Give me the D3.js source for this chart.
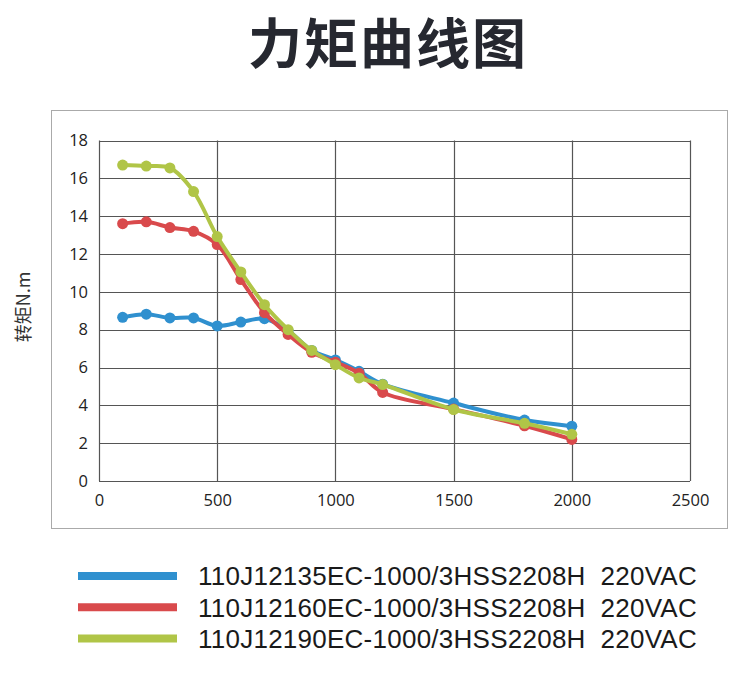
<!DOCTYPE html>
<html lang="zh">
<head>
    <meta charset="utf-8">
    <script src="https://d3js.org/d3.v7.min.js"></script>
    <style>
        body { margin: 0; background: #fff; }
    </style>
</head>
<body>
    <script type="text/javascript">

        // speed (rpm) and torque (N.m)
        let speeds = [100, 200, 300, 400, 500, 600, 700, 800, 900, 1000, 1100, 1200, 1500, 1800, 2000];
        let torque135 = [8.65, 8.82, 8.62, 8.62, 8.2, 8.4, 8.58, 7.95, 6.9, 6.4, 5.8, 5.12, 4.12, 3.22, 2.9];
        let torque160 = [13.6, 13.7, 13.4, 13.2, 12.5, 10.65, 8.9, 7.75, 6.8, 6.28, 5.7, 4.68, 3.8, 2.92, 2.2];
        let torque190 = [16.7, 16.65, 16.55, 15.3, 12.92, 11.05, 9.32, 8.0, 6.9, 6.15, 5.45, 5.1, 3.78, 3.05, 2.47];
        let seriesNames = [
            "110J12135EC-1000/3HSS2208H  220VAC",
            "110J12160EC-1000/3HSS2208H  220VAC",
            "110J12190EC-1000/3HSS2208H  220VAC"
        ];
        let colors = ["#2f90cf", "#d94a4c", "#b0c547"];
        let xTicks = [0, 500, 1000, 1500, 2000, 2500];
        let yTicks = [0, 2, 4, 6, 8, 10, 12, 14, 16, 18];

        let w = 750;
        let h = 685;

        let svg = d3.select("body").append("svg")
                    .attr("width", w)
                    .attr("height", h);

        // title
        svg.append("text")
            .attr("x", 388)
            .attr("y", 64)
            .attr("text-anchor", "middle")
            .attr("font-family", "'Noto Sans CJK SC', sans-serif")
            .attr("font-weight", "bold")
            .attr("font-size", 54)
            .attr("letter-spacing", 2)
            .attr("fill", "#262830")
            .text("力矩曲线图");

        // outer chart frame
        svg.append("rect")
            .attr("x", 51.5)
            .attr("y", 110.5)
            .attr("width", 676)
            .attr("height", 418)
            .attr("fill", "none")
            .attr("stroke", "#aaa")
            .attr("stroke-width", 1);

        let x = d3.scaleLinear().domain([0, 2500]).range([99, 690]);
        let y = d3.scaleLinear().domain([0, 18]).range([481, 140.5]);

        // grid
        svg.append("g").selectAll("line")
            .data(yTicks)
            .join("line")
                .attr("x1", x(0))
                .attr("x2", x(2500))
                .attr("y1", function(d) { return Math.round(y(d)) + 0.5; })
                .attr("y2", function(d) { return Math.round(y(d)) + 0.5; })
                .attr("stroke", "#555")
                .attr("stroke-width", 1.2);

        svg.append("g").selectAll("line")
            .data(xTicks)
            .join("line")
                .attr("x1", function(d) { return Math.round(x(d)) + 0.5; })
                .attr("x2", function(d) { return Math.round(x(d)) + 0.5; })
                .attr("y1", y(0))
                .attr("y2", y(18))
                .attr("stroke", "#555")
                .attr("stroke-width", 1.2);

        // axes labels
        let xAxis = svg.append("g")
            .attr("transform", "translate(0," + y(0) + ")")
            .call(d3.axisBottom(x).tickValues(xTicks).tickFormat(d3.format("d")).tickSize(0).tickPadding(13));
        xAxis.select(".domain").remove();
        xAxis.selectAll("text")
            .attr("font-family", "'Open Sans', sans-serif")
            .attr("font-size", 16.5)
            .attr("fill", "#222");

        let yAxis = svg.append("g")
            .attr("transform", "translate(" + (x(0) - 11) + ",0)")
            .call(d3.axisLeft(y).tickValues(yTicks).tickFormat(d3.format("d")).tickSize(0).tickPadding(0));
        yAxis.select(".domain").remove();
        yAxis.selectAll("text")
            .attr("font-family", "'Open Sans', sans-serif")
            .attr("font-size", 16.5)
            .attr("fill", "#222");

        svg.append("text")
            .attr("transform", "translate(21.5,307) rotate(-90)")
            .attr("text-anchor", "middle")
            .attr("dominant-baseline", "central")
            .attr("font-family", "'Noto Sans CJK SC', sans-serif")
            .attr("font-size", 18)
            .attr("fill", "#333")
            .text("转矩N.m");

        // series
        let allSeries = [torque135, torque160, torque190];

        let line = d3.line()
            .x(function(d) { return x(d[0]); })
            .y(function(d) { return y(d[1]); })
            .curve(d3.curveCatmullRom.alpha(0.5));

        allSeries.forEach(function(vals, i) {
            let pts = speeds.map(function(s, j) { return [s, vals[j]]; });
            let g = svg.append("g");
            g.append("path")
                .attr("d", line(pts))
                .attr("fill", "none")
                .attr("stroke", colors[i])
                .attr("stroke-width", 4)
                .attr("stroke-linejoin", "round");
            g.selectAll("circle")
                .data(pts)
                .join("circle")
                    .attr("cx", function(d) { return x(d[0]); })
                    .attr("cy", function(d) { return y(d[1]); })
                    .attr("r", 5.5)
                    .attr("fill", colors[i]);
        });

        // legend
        let legend = svg.append("g").selectAll("g")
            .data(seriesNames)
            .join("g")
                .attr("transform", function(d, i) { return "translate(0," + (576 + i * 31.3) + ")"; });

        legend.append("line")
            .attr("x1", 78)
            .attr("x2", 177)
            .attr("stroke", function(d, i) { return colors[i]; })
            .attr("stroke-width", 8);

        legend.append("text")
            .attr("x", 198)
            .attr("dy", "0.36em")
            .attr("font-family", "'Liberation Sans', sans-serif")
            .attr("font-size", 26)
            .attr("letter-spacing", 0.25)
            .attr("fill", "#1a1a1a")
            .attr("xml:space", "preserve")
            .style("white-space", "pre")
            .text(function(d) { return d; });

    </script>
</body>
</html>
